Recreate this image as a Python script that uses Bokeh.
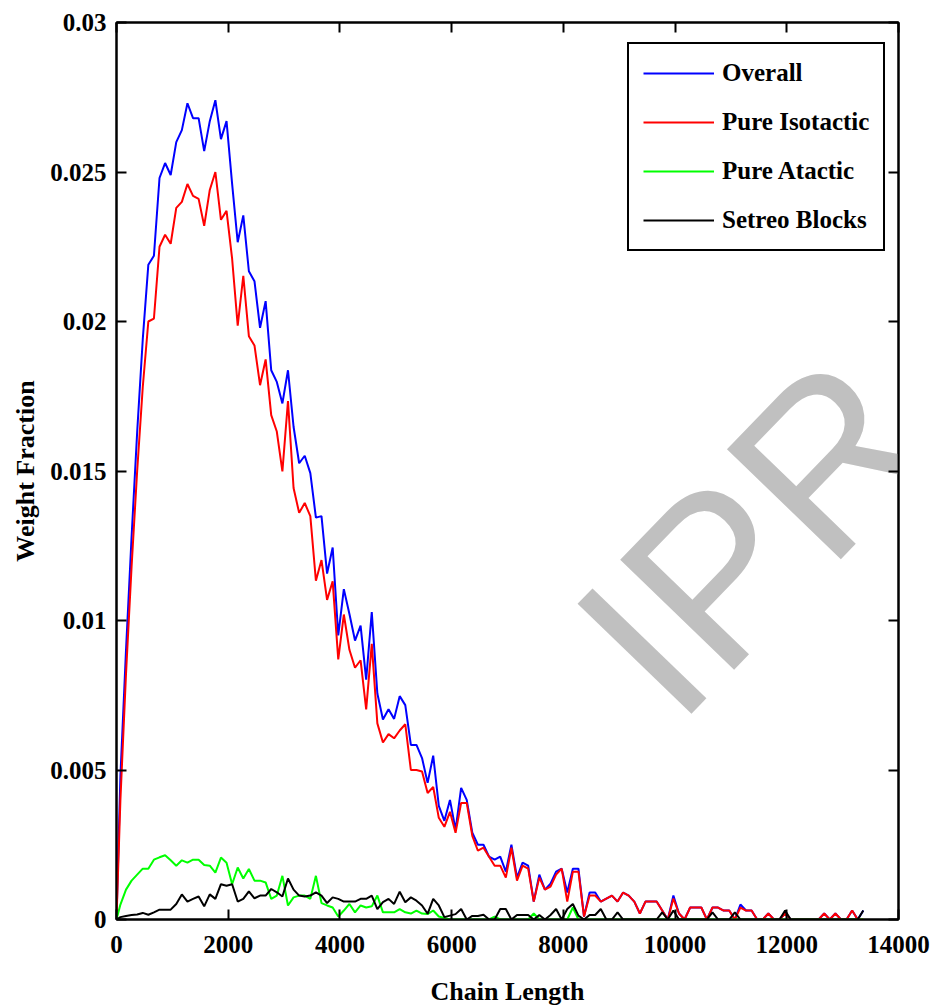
import math
from bokeh.plotting import figure
from bokeh.models import Range1d, LinearAxis, FixedTicker, Legend, LegendItem, Label
from bokeh.embed import file_html
from bokeh.resources import INLINE

# ---------------- data ----------------
chain_length = [0] + list(range(70, 13371, 100))

overall = [0,
    0.0048, 0.0090, 0.0128, 0.0163, 0.0194, 0.0219, 0.0222, 0.0248, 0.0253, 0.0249,
    0.0260, 0.0264, 0.0273, 0.0268, 0.0268, 0.0257, 0.0267, 0.0274, 0.0261, 0.0267,
    0.0246, 0.02265, 0.02355, 0.02168, 0.02135, 0.01979, 0.02068, 0.01837, 0.01798, 0.01726,
    0.01837, 0.01648, 0.01526, 0.01551, 0.01493, 0.01344, 0.01349, 0.01157, 0.01244, 0.0095,
    0.01105, 0.01022, 0.00933, 0.00983, 0.00802, 0.01028, 0.00756, 0.00669, 0.00703, 0.00671,
    0.00747, 0.00717, 0.00584, 0.00584, 0.0054, 0.00457, 0.00548, 0.0038, 0.0033, 0.0040,
    0.0030, 0.0044, 0.0040, 0.0029, 0.0025, 0.0025, 0.0021, 0.0020, 0.0021, 0.0016,
    0.0025, 0.0014, 0.0019, 0.0018, 0.0006, 0.0015, 0.0010, 0.0012, 0.0016, 0.0017,
    0.0009, 0.0017, 0.0017, 0.0001, 0.0009, 0.0009, 0.0006, 0.0007, 0.0008, 0.0006,
    0.0009, 0.0008, 0.0006, 0.0002, 0.0006, 0.0006, 0.0006, 0.0003, 0.0, 0.0008,
    0.0002, 0.0, 0.0004, 0.0004, 0.0004, 0.0, 0.0004, 0.0004, 0.0003, 0.0003,
    0.0, 0.0005, 0.0003, 0.0003, 0.0, 0.0, 0.0002, 0.0, 0.0, 0.0002,
    0, 0, 0, 0, 0, 0, 0.0002, 0, 0.0002, 0,
    0, 0.0003, 0, 0.0003]

pure_isotactic = [0,
    0.0040, 0.0082, 0.0118, 0.0150, 0.0178, 0.0200, 0.0201, 0.0225, 0.0229, 0.0226,
    0.0238, 0.0240, 0.0246, 0.0242, 0.0241, 0.0232, 0.0244, 0.0250, 0.0234, 0.0237,
    0.0221, 0.01986, 0.02153, 0.01951, 0.0192, 0.01787, 0.01873, 0.01687, 0.01632, 0.01499,
    0.01734, 0.01443, 0.0136, 0.01393, 0.01349, 0.01133, 0.01202, 0.01069, 0.01131, 0.0087,
    0.0102, 0.00902, 0.00842, 0.00867, 0.00703, 0.00922, 0.00656, 0.00592, 0.0062, 0.00606,
    0.00632, 0.00653, 0.0050, 0.0050, 0.00495, 0.00423, 0.00443, 0.0034, 0.0031, 0.0036,
    0.0029, 0.0039, 0.0039, 0.0028, 0.0023, 0.0024, 0.0021, 0.0018, 0.0018, 0.0014,
    0.0024, 0.0013, 0.0018, 0.0017, 0.0006, 0.0014, 0.0010, 0.0011, 0.0015, 0.0017,
    0.0006, 0.0016, 0.0016, 0.0001, 0.0008, 0.0008, 0.0006, 0.0007, 0.0008, 0.0006,
    0.0009, 0.0008, 0.0006, 0.0002, 0.0006, 0.0006, 0.0006, 0.0003, 0.0, 0.0007,
    0.0002, 0.0, 0.0004, 0.0004, 0.0004, 0.0, 0.0004, 0.0004, 0.0003, 0.0003,
    0.0, 0.0004, 0.0003, 0.0003, 0.0, 0.0, 0.0002, 0.0, 0.0, 0.0002,
    0, 0, 0, 0, 0, 0, 0.0002, 0, 0.0002, 0,
    0, 0.0003, 0, 0]

pure_atactic = [0,
    0.0005, 0.0010, 0.0013, 0.0015, 0.0017, 0.0017, 0.0020, 0.00208, 0.00215, 0.00198,
    0.0018, 0.00198, 0.0019, 0.0020, 0.0020, 0.00182, 0.0018, 0.00157, 0.00207, 0.0019,
    0.00118, 0.00174, 0.00137, 0.00169, 0.0013, 0.0013, 0.00124, 0.00069, 0.0008, 0.00146,
    0.00047, 0.00074, 0.0008, 0.0008, 0.00069, 0.00146, 0.00055, 0.00047, 0.0004, 0.0001,
    0.0003, 0.00052, 0.00024, 0.00047, 0.0004, 0.00044, 0.0008, 0.00024, 0.00024, 0.00024,
    0.00035, 0.00024, 0.0002, 0.0003, 0.0002, 0.00018, 0.0003, 0.0001, 0.00005, 0,
    0, 0, 0, 0, 0, 0, 0, 0.0001, 0, 0,
    0, 0, 0, 0, 0.0002, 0, 0, 0, 0, 0,
    0, 0.0004, 0, 0, 0, 0, 0, 0, 0, 0,
    0, 0, 0, 0, 0, 0, 0, 0, 0, 0,
    0, 0, 0, 0, 0, 0, 0, 0, 0, 0,
    0, 0, 0, 0, 0, 0, 0, 0, 0, 0,
    0, 0, 0, 0, 0, 0, 0, 0, 0, 0,
    0, 0, 0, 0]

stereo_blocks = [0,
    0.00008, 0.00012, 0.00015, 0.00017, 0.00022, 0.00016, 0.00024, 0.00033, 0.00033, 0.00033,
    0.00052, 0.00084, 0.0006, 0.00069, 0.00077, 0.00044, 0.00084, 0.00069, 0.00118, 0.00113,
    0.00118, 0.0006, 0.00069, 0.00094, 0.00071, 0.0008, 0.0008, 0.00102, 0.00091, 0.00077,
    0.00137, 0.001, 0.0008, 0.00077, 0.0008, 0.00091, 0.0008, 0.00055, 0.00074, 0.00069,
    0.0006, 0.0006, 0.0006, 0.00069, 0.00069, 0.0008, 0.00035, 0.00058, 0.00069, 0.00052,
    0.00093, 0.00058, 0.00074, 0.00063, 0.00047, 0.00019, 0.00069, 0.00047, 0.00008, 0.00013,
    0.00018, 0.00035, 0, 0.00012, 0.00012, 0.00016, 0, 0, 0.00035, 0.00035,
    0, 0.00015, 0.00015, 0.00015, 0, 0.00015, 0, 0.00015, 0.00035, 0,
    0.00035, 0.00052, 0.00013, 0, 0.00015, 0.00015, 0.00035, 0, 0, 0.00024,
    0, 0, 0, 0, 0, 0, 0, 0.00024, 0, 0.0003,
    0, 0, 0, 0, 0, 0, 0.00024, 0, 0, 0,
    0.00024, 0, 0, 0, 0, 0, 0, 0, 0, 0.0003,
    0, 0, 0, 0, 0, 0, 0, 0, 0, 0,
    0, 0, 0, 0.0003]

series_names = ["Overall", "Pure Isotactic", "Pure Atactic", "Setreo Blocks"]
series_colors = ["#0000ff", "#ff0000", "#00ff00", "#000000"]

x_ticks = [0, 2000, 4000, 6000, 8000, 10000, 12000, 14000]
y_ticks = [0, 0.005, 0.01, 0.015, 0.02, 0.025, 0.03]
y_tick_labels = ["0", "0.005", "0.01", "0.015", "0.02", "0.025", "0.03"]

# ---------------- figure ----------------
W, H = 936, 1008
L, R, T, B = 116, 38, 22, 84
FONT = "Liberation Serif"

p = figure(width=W, height=H, output_backend="svg", toolbar_location=None,
           x_range=Range1d(0, 14000), y_range=Range1d(0, 0.03),
           min_border_left=L, min_border_right=R, min_border_top=T, min_border_bottom=B,
           x_axis_location=None, y_axis_location=None)
p.xgrid.visible = False
p.ygrid.visible = False
p.outline_line_color = "black"
p.outline_line_width = 2
p.background_fill_color = "white"
p.border_fill_color = "white"

def style_axis(ax, show_labels):
    ax.axis_line_width = 2
    ax.axis_line_color = "black"
    ax.major_tick_in = 10
    ax.major_tick_out = 0
    ax.major_tick_line_width = 2
    ax.minor_tick_line_color = None
    ax.major_label_text_font = FONT
    ax.major_label_text_font_style = "bold"
    ax.major_label_text_font_size = "25px"
    ax.major_label_text_color = "black"
    ax.axis_label_text_font = FONT
    ax.axis_label_text_font_style = "bold"
    ax.axis_label_text_font_size = "26px"
    ax.axis_label_text_color = "black"
    if not show_labels:
        ax.major_label_text_font_size = "0px"
        ax.major_label_text_alpha = 0

xt = FixedTicker(ticks=x_ticks)
yt = FixedTicker(ticks=y_ticks)

xb = LinearAxis(ticker=xt, axis_label="Chain Length")
style_axis(xb, True)
xb.major_label_standoff = 16
xb.axis_label_standoff = 21
p.add_layout(xb, "below")

yl = LinearAxis(ticker=yt, axis_label="Weight Fraction")
style_axis(yl, True)
yl.major_label_overrides = {t: s for t, s in zip(y_ticks, y_tick_labels)}
yl.major_label_standoff = 10
yl.axis_label_standoff = 7
p.add_layout(yl, "left")

xa = LinearAxis(ticker=xt)
style_axis(xa, False)
p.add_layout(xa, "above")

yr = LinearAxis(ticker=yt)
style_axis(yr, False)
p.add_layout(yr, "right")

# pixel -> data helpers for decorations
def px2x(px):
    return (px - L) / (W - L - R) * 14000
def py2y(py):
    return (H - B - py) / (H - B - T) * 0.03

# watermark behind the data
wm = Label(x=px2x(619), y=py2y(677), text="IPR", angle=math.radians(46),
           text_font="Liberation Sans", text_font_size="230px",
           text_color="#c0c0c0", text_align="left", text_baseline="alphabetic",
           level="underlay")
p.add_layout(wm)

series = [overall, pure_isotactic, pure_atactic, stereo_blocks]
items = []
for name, col, vals in zip(series_names, series_colors, series):
    r = p.line(chain_length, vals, line_color=col, line_width=2)
    items.append(LegendItem(label=name, renderers=[r]))

legend = Legend(items=items, location=(511, 668))
legend.label_text_font = FONT
legend.label_text_font_style = "bold"
legend.label_text_font_size = "25px"
legend.label_text_color = "black"
legend.glyph_width = 71
legend.glyph_height = 30
legend.label_height = 30
legend.label_standoff = 8
legend.spacing = 19
legend.padding = 14
legend.margin = 0
legend.border_line_color = "black"
legend.border_line_alpha = 1
legend.border_line_width = 2
legend.background_fill_color = "white"
legend.background_fill_alpha = 1
p.add_layout(legend)

open("out.html", "w").write(file_html(p, INLINE))
